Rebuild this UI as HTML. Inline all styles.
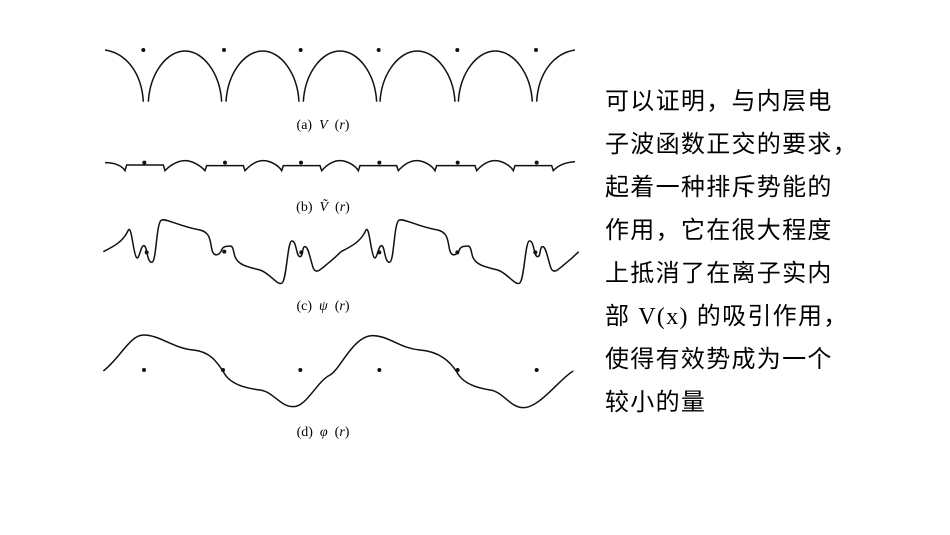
<!DOCTYPE html>
<html><head><meta charset="utf-8"><style>
html,body{margin:0;padding:0;background:#fff;}
#w{position:relative;width:950px;height:535px;overflow:hidden;background:#fff;}
.t{position:absolute;left:605px;font-family:"Liberation Sans","Noto Sans CJK SC",sans-serif;font-size:24px;letter-spacing:1.3px;line-height:30px;white-space:nowrap;color:#000;}
.s{font-family:"Liberation Serif",serif;}
.lab{font-family:"Liberation Serif",serif;font-size:14px;white-space:pre;}
</style></head><body><div id="w">
<svg width="950" height="535" style="position:absolute;left:0;top:0">
<g fill="none" stroke="#111" stroke-width="4.5" transform="translate(100,40) scale(0.33333)">
<path d="M15,30 C80,40 125,100 130,185"/>
<path d="M145,185 C150,100 200,33 255,33 C310,33 360,100 365,185"/>
<path d="M378,185 C383,100 433,33 488,33 C543,33 592,100 597,185"/>
<path d="M610,185 C615,100 665,33 720,33 C775,33 825,100 830,185"/>
<path d="M840,185 C845,100 897,33 952,33 C1007,33 1060,100 1065,185"/>
<path d="M1075,185 C1080,100 1130,33 1186,33 C1242,33 1292,100 1297,185"/>
<path d="M1310,185 C1315,100 1360,40 1425,30"/>
<path d="M15,368 C40,368 65,375 75,392 L80,375 L190,375 L195,392 C215,370 240,362 255,362 C275,362 300,375 315,392 L320,377 L430,377 L435,392 C455,370 475,362 490,362 C510,362 535,375 545,392 L550,377 L660,377 L665,392 C685,370 705,362 720,362 C740,362 765,375 775,392 L780,377 L890,377 L895,392 C915,370 935,362 950,362 C970,362 995,375 1005,392 L1010,377 L1125,377 L1130,392 C1150,370 1170,362 1185,362 C1205,362 1230,375 1240,392 L1245,377 L1355,377 L1360,392 C1375,375 1395,368 1425,365"/>
</g>
<g fill="#111" transform="translate(100,40) scale(0.33333)">
<circle cx="130" cy="30" r="6"/><circle cx="372" cy="30" r="6"/><circle cx="602" cy="30" r="6"/><circle cx="836" cy="30" r="6"/><circle cx="1072" cy="30" r="6"/><circle cx="1308" cy="30" r="6"/>
<circle cx="133" cy="368" r="6"/><circle cx="375" cy="368" r="6"/><circle cx="603" cy="368" r="6"/><circle cx="838" cy="368" r="6"/><circle cx="1073" cy="368" r="6"/><circle cx="1310" cy="368" r="6"/>
</g>
<g fill="none" stroke="#111" stroke-width="4.5" transform="translate(100,215) scale(0.33333)">
<path id="cp" d="M10,110 C40,95 70,80 85,45 C95,30 100,120 110,128 C118,135 122,90 132,92 C142,94 140,140 155,142 C170,144 168,20 185,15 C200,10 240,35 300,45 C330,52 330,75 335,100 C340,130 360,120 365,105 C370,92 380,95 390,93 C400,92 400,110 405,125 C415,150 440,155 480,165 C510,175 530,210 545,205 C560,200 562,80 575,78 C590,76 588,125 600,125 C610,125 605,95 615,95 C625,95 630,130 640,160 C650,180 665,160 690,140 C705,128 715,118 723,110"/>
<use href="#cp" transform="translate(713,0)"/>
<path d="M10,468 C60,430 90,360 130,360 C180,360 220,400 280,405 C330,410 350,440 370,470 C390,510 440,520 480,525 C520,530 540,575 580,575 C620,575 650,500 690,480 C720,465 760,360 820,362 C870,364 900,400 960,405 C1020,410 1050,440 1070,470 C1090,510 1140,520 1170,525 C1210,530 1230,578 1270,578 C1320,578 1380,490 1420,468"/>
</g>
<g fill="#111" transform="translate(100,215) scale(0.33333)">
<circle cx="140" cy="112" r="6"/><circle cx="373" cy="110" r="6"/><circle cx="604" cy="112" r="6"/><circle cx="838" cy="112" r="6"/><circle cx="1072" cy="112" r="6"/><circle cx="1306" cy="112" r="6"/>
<circle cx="132" cy="465" r="6"/><circle cx="369" cy="465" r="6"/><circle cx="601" cy="465" r="6"/><circle cx="838" cy="465" r="6"/><circle cx="1073" cy="465" r="6"/><circle cx="1310" cy="465" r="6"/>
</g>
<text class="lab" x="323" y="129" text-anchor="middle">(a)  <tspan font-style="italic">V</tspan>  (<tspan font-style="italic">r</tspan>)</text>
<text class="lab" x="323" y="211" text-anchor="middle">(b)  <tspan font-style="italic">Ṽ</tspan>  (<tspan font-style="italic">r</tspan>)</text>
<text class="lab" x="323" y="310" text-anchor="middle">(c)  <tspan font-style="italic">ψ</tspan>  (<tspan font-style="italic">r</tspan>)</text>
<text class="lab" x="323" y="436" text-anchor="middle">(d)  <tspan font-style="italic">φ</tspan>  (<tspan font-style="italic">r</tspan>)</text>
</svg>
<div class="t" style="top:87px">可以证明，与内层电</div>
<div class="t" style="top:130px">子波函数正交的要求，</div>
<div class="t" style="top:173px">起着一种排斥势能的</div>
<div class="t" style="top:216px">作用，它在很大程度</div>
<div class="t" style="top:259px">上抵消了在离子实内</div>
<div class="t" style="top:302px">部 <span class="s">V(x)</span> 的吸引作用，</div>
<div class="t" style="top:345px">使得有效势成为一个</div>
<div class="t" style="top:388px">较小的量</div>
</div></body></html>
